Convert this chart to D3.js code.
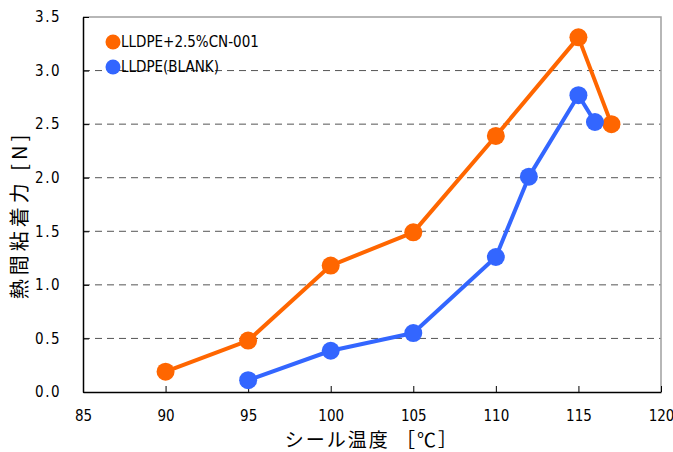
<!DOCTYPE html>
<html><head><meta charset="utf-8">
<script src="https://cdn.jsdelivr.net/npm/d3@7"></script>
<style>body{margin:0;background:#fff}svg{display:block}</style>
</head><body>
<svg id="c" width="673" height="452"></svg>
<script>
const xTicks = [85, 90, 95, 100, 105, 110, 115, 120];
const yTicks = [0, 0.5, 1.0, 1.5, 2.0, 2.5, 3.0, 3.5];
const seriesNames = ["LLDPE+2.5%CN-001", "LLDPE(BLANK)"];
const tempCN = [90, 95, 100, 105, 110, 115, 117];
const forceCN = [0.19, 0.48, 1.18, 1.49, 2.39, 3.31, 2.50];
const tempBlank = [95, 100, 105, 110, 112, 115, 116];
const forceBlank = [0.11, 0.385, 0.55, 1.26, 2.01, 2.77, 2.52];
const colors = ["#FF6600", "#3366FF"];

const svg = d3.select("#c");
const L = 83, R = 661, T = 17, B = 392;
const x = d3.scaleLinear().domain([85, 120]).range([L, R]);
const y = d3.scaleLinear().domain([0, 3.5]).range([B, T]);
const narrow = "'Liberation Sans Narrow','DejaVu Sans Condensed',sans-serif";

// gridlines
svg.append("g").selectAll("line").data(yTicks.filter(d => d > 0 && d < 3.5)).join("line")
  .attr("x1", L).attr("x2", R).attr("y1", d => y(d)).attr("y2", d => y(d))
  .attr("stroke", "#555").attr("stroke-width", 1).attr("stroke-dasharray", "7,5");

// frame top/right
svg.append("path").attr("d", `M${L},${T}H${R}V${B}`).attr("fill", "none")
  .attr("stroke", "#a0a0a0").attr("stroke-width", 1.5);

// axes
const xAxis = svg.append("g").attr("transform", `translate(0,${B})`)
  .call(d3.axisBottom(x).tickValues(xTicks).tickSizeInner(-6).tickSizeOuter(0).tickPadding(18));
xAxis.select(".domain").attr("stroke", "#000").attr("stroke-width", 1.5);
xAxis.selectAll(".tick line").attr("stroke", "#000");
xAxis.selectAll("text").attr("font-family", narrow).attr("font-size", 15).attr("fill", "#000");

const yAxis = svg.append("g").attr("transform", `translate(${L},0)`)
  .call(d3.axisLeft(y).tickValues(yTicks).tickFormat(d3.format(".1f")).tickSizeInner(-6).tickSizeOuter(0).tickPadding(22));
yAxis.select(".domain").attr("stroke", "#000").attr("stroke-width", 1.5);
yAxis.selectAll(".tick line").attr("stroke", "#000");
yAxis.selectAll("text").attr("font-family", narrow).attr("font-size", 15).attr("fill", "#000")
  .attr("letter-spacing", 1.5);

// series
const series = [
  {name: seriesNames[0], xs: tempCN, ys: forceCN, color: colors[0]},
  {name: seriesNames[1], xs: tempBlank, ys: forceBlank, color: colors[1]}
];
const line = d3.line().x(d => x(d[0])).y(d => y(d[1]));
series.forEach(s => {
  const pts = s.xs.map((v, i) => [v, s.ys[i]]);
  svg.append("path").datum(pts).attr("d", line).attr("fill", "none")
    .attr("stroke", s.color).attr("stroke-width", 4).attr("stroke-linejoin", "round");
  svg.append("g").selectAll("circle").data(pts).join("circle")
    .attr("cx", d => x(d[0])).attr("cy", d => y(d[1])).attr("r", 9).attr("fill", s.color);
});

// legend
series.forEach((s, i) => {
  const ly = 42 + i * 25;
  svg.append("circle").attr("cx", 113).attr("cy", ly).attr("r", 7.5).attr("fill", s.color);
  svg.append("text").attr("x", 121).attr("y", ly + 5).text(s.name)
    .attr("font-family", narrow).attr("font-size", 15).attr("fill", "#000");
});

// titles
svg.append("text").attr("x", (L + R) / 2).attr("y", 447).attr("text-anchor", "middle")
  .attr("font-family", "'Noto Sans CJK JP',sans-serif").attr("font-size", 19).attr("fill", "#000")
  .attr("letter-spacing", 2)
  .text("シール温度 ［℃］");
svg.append("text").attr("transform", `translate(27,215) rotate(-90)`)
  .attr("text-anchor", "middle")
  .attr("font-family", "'Noto Sans CJK JP',sans-serif").attr("font-size", 20).attr("fill", "#000")
  .attr("letter-spacing", 4)
  .text("熱間粘着力 [N]");
</script>
</body></html>
